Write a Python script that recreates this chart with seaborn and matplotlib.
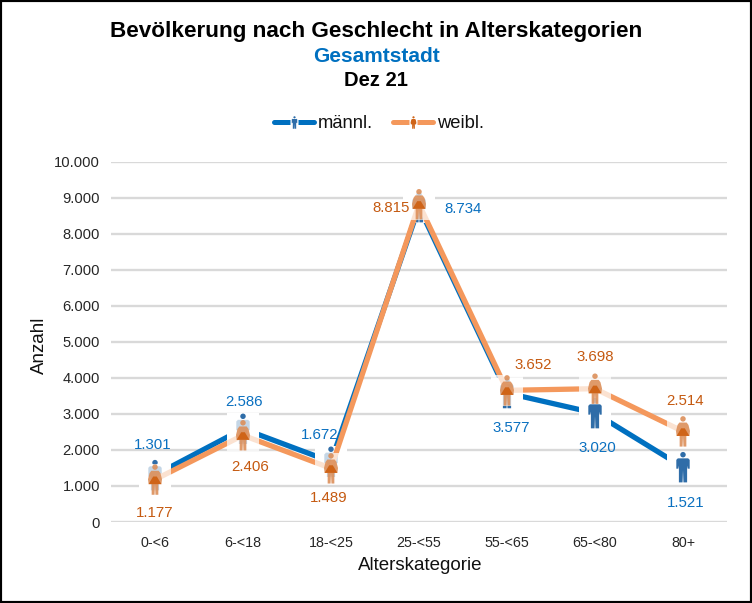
import matplotlib
matplotlib.use("Agg")
import matplotlib.pyplot as plt
import numpy as np
import pandas as pd
import seaborn as sns
from matplotlib.lines import Line2D
from matplotlib.patches import Rectangle
from matplotlib.path import Path
from matplotlib.legend_handler import HandlerTuple

categories = ["0-<6", "6-<18", "18-<25", "25-<55", "55-<65", "65-<80", "80+"]
maennlich = [1301, 2586, 1672, 8734, 3577, 3020, 1521]
weiblich = [1177, 2406, 1489, 8815, 3652, 3698, 2514]
yticks = [0, 1000, 2000, 3000, 4000, 5000, 6000, 7000, 8000, 9000, 10000]
title_main = "Bevölkerung nach Geschlecht in Alterskategorien"
title_sub = "Gesamtstadt"
title_date = "Dez 21"

BLUE, ORANGE = "#0070C0", "#F4985C"
BLUE_TXT, ORANGE_TXT = "#0A70C0", "#C55A11"
MAN, WOMAN, WOMAN_DARK = "#2F6DA8", "#DC8F5A", "#CF6418"

male_off = [(-2, 30), (1, 27), (-11, 27), (44, -2), (4, -35), (2, -35), (3, -36)]
female_off = [(0, -33), (7, -32), (-2, -30), (-28, -4), (26, 25), (0, 32), (2, 30)]


def poly(pts):
    return Path(list(pts) + [pts[0]], closed=True)


def man_path():
    head = Path.circle((0, 0.82), 0.18)
    body = poly([(-0.34, 0.58), (0.34, 0.58), (0.44, 0.48), (0.44, -0.1), (0.31, -0.1),
                 (0.27, 0.1), (0.27, -1.0), (0.03, -1.0), (0.0, -0.2), (-0.03, -1.0), (-0.27, -1.0),
                 (-0.27, 0.1), (-0.31, -0.1), (-0.44, -0.1), (-0.44, 0.48)])
    return Path.make_compound_path(head, body)


def woman_path():
    head = Path.circle((0, 0.82), 0.18)
    body = poly([(-0.24, 0.58), (0.24, 0.58), (0.36, 0.42), (0.46, 0.02), (0.42, -0.3),
                 (0.22, -0.3), (0.22, -1.0), (0.03, -1.0), (0.0, -0.3), (-0.03, -1.0),
                 (-0.22, -1.0), (-0.22, -0.3), (-0.42, -0.3), (-0.46, 0.02), (-0.36, 0.42)])
    return Path.make_compound_path(head, body)


def dress_path():
    # darker lower dress; the tiny foot mark keeps it at the same scale as the figure
    inner = poly([(-0.12, 0.2), (0.12, 0.2), (0.42, -0.3), (-0.42, -0.3)])
    foot = poly([(-0.001, -1.0), (0.001, -1.0), (0.001, -0.999), (-0.001, -0.999)])
    return Path.make_compound_path(inner, foot)


sns.set_theme(style="white")
plt.rcParams["font.family"] = ["Liberation Sans", "DejaVu Sans"]

W, H = 752, 603
fig = plt.figure(figsize=(W / 100, H / 100), dpi=100, facecolor="white")
ax = fig.add_axes([111 / W, 1 - 522 / H, 616 / W, 360.5 / H])

df = pd.DataFrame({"kat": categories, "m": maennlich, "w": weiblich})
PERSON = 480
BOX = 500

ax.yaxis.grid(True, color="#D9D9D9", lw=1.7, zorder=0)
ax.set_axisbelow(True)

sns.lineplot(data=df, x="kat", y="m", color=BLUE, lw=3.8, sort=False, ax=ax, zorder=2)
sns.scatterplot(data=df, x="kat", y="m", marker="s", s=BOX, color="white", edgecolor="none", ax=ax, zorder=3)
sns.scatterplot(data=df, x="kat", y="m", marker=man_path(), s=PERSON, color=MAN, edgecolor="none", ax=ax, zorder=4)

sns.lineplot(data=df, x="kat", y="w", color=ORANGE, lw=3.8, sort=False, ax=ax, zorder=5)
sns.scatterplot(data=df, x="kat", y="w", marker="s", s=BOX, color="white", alpha=0.72, edgecolor="none", ax=ax, zorder=6)
sns.scatterplot(data=df, x="kat", y="w", marker=woman_path(), s=PERSON, color=WOMAN, alpha=0.9, edgecolor="none", ax=ax, zorder=7)
sns.scatterplot(data=df, x="kat", y="w", marker=dress_path(), s=PERSON, color=WOMAN_DARK, edgecolor="none", ax=ax, zorder=8)

px = 72 / 100
for i, (vm, vw) in enumerate(zip(maennlich, weiblich)):
    for v, off, col in ((vm, male_off[i], BLUE_TXT), (vw, female_off[i], ORANGE_TXT)):
        ax.annotate(f"{v:,}".replace(",", "."), (i, v), xytext=(off[0] * px, off[1] * px),
                    textcoords="offset points", ha="center", va="center",
                    color=col, fontsize=10.8, zorder=10)

ax.set_xlim(-0.5, 6.5)
ax.set_ylim(0, 10000)
ax.set_yticks(yticks)
ax.set_yticklabels([f"{t:,}".replace(",", ".") for t in yticks])
ax.tick_params(axis="both", length=0, labelcolor="#262626")
ax.tick_params(axis="y", pad=8, labelsize=10.6)
ax.tick_params(axis="x", pad=10, labelsize=10.3)
ax.set_xlabel("")
ax.set_ylabel("")
sns.despine(ax=ax, left=True, bottom=True, top=True, right=True)

fig.text(39 / W, 1 - 345 / H, "Anzahl", rotation=90, ha="center", va="center", fontsize=13.5, color="#111111")
fig.text(420 / W, 1 - 566 / H, "Alterskategorie", ha="center", va="center", fontsize=13.5, color="#111111")
fig.text(376 / W, 1 - 31 / H, title_main, ha="center", va="center", fontsize=16.2, fontweight="bold", color="black")
fig.text(376 / W, 1 - 56 / H, title_sub, ha="center", va="center", fontsize=15, fontweight="bold", color=BLUE)
fig.text(376 / W, 1 - 80 / H, title_date, ha="center", va="center", fontsize=14.5, fontweight="bold", color="black")


def legend_handle(color, path, person):
    line = Line2D([], [], color=color, lw=3.6, solid_capstyle="round")
    box = Line2D([], [], ls="", marker="s", ms=5.5, mfc="white", mec="none")
    fig_marker = Line2D([], [], ls="", marker=path, ms=9, mfc=person, mec="none")
    return (line, box, fig_marker)


handles = [legend_handle(BLUE, man_path(), MAN), legend_handle(ORANGE, woman_path(), WOMAN_DARK)]
fig.legend(handles, ["männl.", "weibl."], ncol=2, loc="center", bbox_to_anchor=(379 / W, 1 - 124 / H),
           frameon=False, fontsize=13.2, handlelength=2.2, handletextpad=0.2, columnspacing=1.1,
           labelcolor="#111111", handler_map={tuple: HandlerTuple(ndivide=1, pad=0)})

fig.add_artist(Rectangle((0, 0), 1, 1, transform=fig.transFigure, fill=False, ec="black", lw=3))
fig.savefig("out.png", dpi=100, facecolor="white")
